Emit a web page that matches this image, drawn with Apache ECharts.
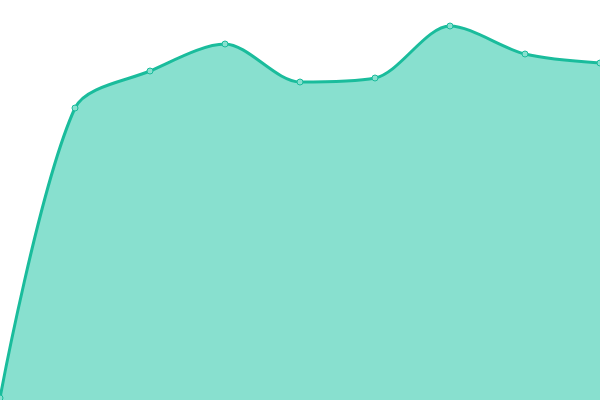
<!DOCTYPE html>
<html>
<head>
<meta charset="utf-8">
<script src="https://cdn.jsdelivr.net/npm/echarts@6/dist/echarts.min.js"></script>
<style>
html, body { margin: 0; padding: 0; background: #fff; }
#chart { width: 600px; height: 400px; }
</style>
</head>
<body>
<div id="chart"></div>
<script>
var categories = ['1', '2', '3', '4', '5', '6', '7', '8', '9'];
var values = [2, 292, 329, 356, 318, 322, 374, 346, 337];

var myChart = echarts.init(document.getElementById('chart'));
var option = {
    animation: false,
    grid: { left: 0, right: 0, top: 0, bottom: 0 },
    xAxis: {
        type: 'category',
        data: categories,
        boundaryGap: false,
        show: false
    },
    yAxis: {
        type: 'value',
        min: 0,
        max: 400,
        show: false
    },
    series: [{
        type: 'line',
        data: values,
        smooth: 0.3,
        symbol: 'circle',
        symbolSize: 6,
        lineStyle: { color: '#1abc9c', width: 3 },
        itemStyle: { color: '#88e0cf', borderColor: '#1abc9c', borderWidth: 1 },
        areaStyle: { color: '#88e0cf', opacity: 1 }
    }]
};
myChart.setOption(option);
</script>
</body>
</html>
